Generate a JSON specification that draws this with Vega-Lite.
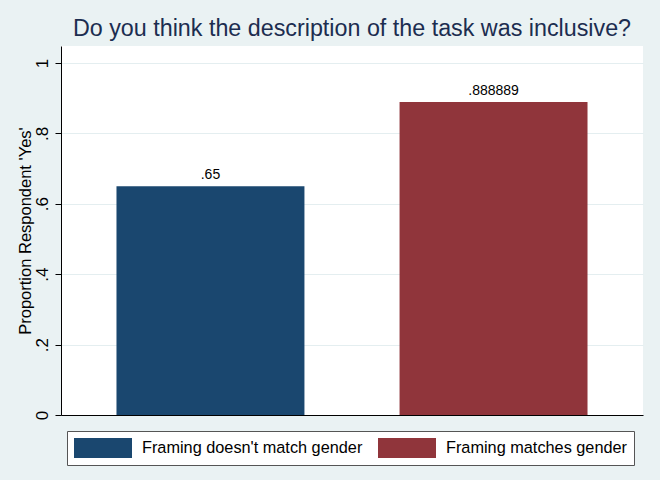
{
  "$schema": "https://vega.github.io/schema/vega-lite/v6.json",
  "width": 582,
  "height": 369,
  "autosize": {"type": "none"},
  "padding": {"left": 61, "top": 46, "right": 17, "bottom": 65},
  "background": "#eaf2f3",
  "title": {
    "text": "Do you think the description of the task was inclusive?",
    "font": "Liberation Sans",
    "fontSize": 23.3,
    "fontWeight": "normal",
    "color": "#1c2d50",
    "anchor": "middle",
    "offset": 5
  },
  "config": {
    "view": {"fill": "white", "stroke": null},
    "font": "Liberation Sans"
  },
  "data": {
    "values": [
      {"group": "Framing doesn't match gender", "value": 0.65},
      {"group": "Framing matches gender", "value": 0.888889}
    ]
  },
  "transform": [
    {"calculate": "replace(format(datum.value, '.6~f'), '0.', '.')", "as": "label"}
  ],
  "encoding": {
    "x": {
      "field": "group",
      "type": "nominal",
      "sort": null,
      "scale": {"paddingInner": 0.336, "paddingOuter": 0.196},
      "axis": {
        "title": null,
        "labels": false,
        "ticks": false,
        "domainColor": "#000000",
        "domainWidth": 1
      }
    },
    "y": {
      "field": "value",
      "type": "quantitative",
      "scale": {"domain": [0, 1.048], "nice": false},
      "axis": {
        "values": [0, 0.2, 0.4, 0.6, 0.8, 1],
        "title": "Proportion Respondent 'Yes'",
        "titleFont": "Liberation Sans",
        "titleFontSize": 16.5,
        "titleFontWeight": "normal",
        "titleColor": "#000000",
        "titlePadding": 0,
        "labelExpr": "datum.value == 0 ? '0' : datum.value == 1 ? '1' : replace(format(datum.value, '.1f'), '0.', '.')",
        "labelAngle": 270,
        "labelAlign": "center",
        "labelBaseline": "bottom",
        "labelFontSize": 17,
        "labelColor": "#000000",
        "labelPadding": 4,
        "tickSize": 6,
        "tickColor": "#000000",
        "domainColor": "#000000",
        "gridColor": "#e4eef0",
        "gridWidth": 1
      }
    }
  },
  "layer": [
    {
      "mark": {"type": "bar"},
      "encoding": {
        "color": {
          "field": "group",
          "type": "nominal",
          "sort": null,
          "scale": {"range": ["#1a476f", "#90353b"]},
          "legend": {
            "title": null,
            "orient": "none",
            "direction": "horizontal",
            "legendX": 6,
            "legendY": 385,
            "symbolType": "M-1,-1L4.8,-1L4.8,1L-1,1Z",
            "symbolSize": 400,
            "symbolStrokeWidth": 0,
            "symbolOpacity": 1,
            "labelFont": "Liberation Sans",
            "labelFontSize": 16.3,
            "labelColor": "#000000",
            "labelOffset": 48,
            "labelLimit": 400,
            "columnPadding": 15,
            "padding": 7,
            "fillColor": "white",
            "strokeColor": "#555555"
          }
        }
      }
    },
    {
      "mark": {"type": "text", "baseline": "bottom", "dy": -4, "fontSize": 14, "color": "#000000"},
      "encoding": {
        "text": {"field": "label"}
      }
    }
  ]
}
